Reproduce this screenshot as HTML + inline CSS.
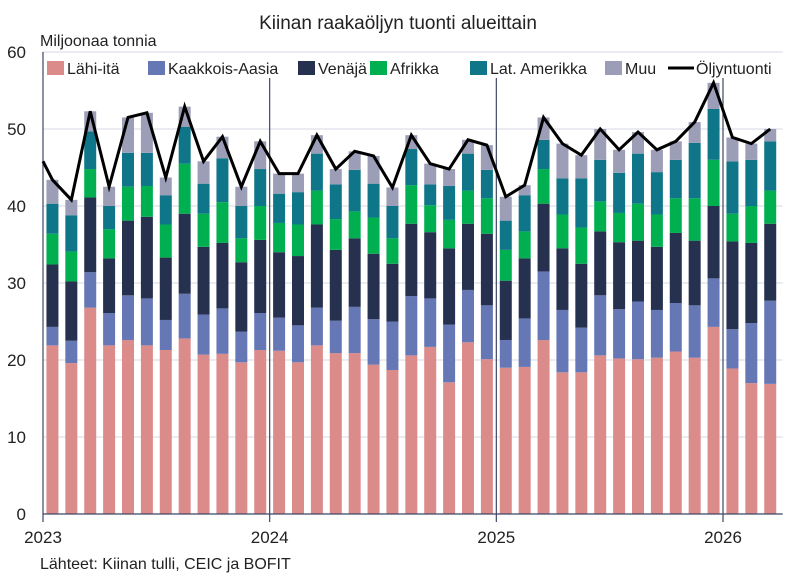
<!DOCTYPE html>
<html><head><meta charset="utf-8">
<style>
html,body{margin:0;padding:0;background:#fff;}
svg{display:block;font-family:"Liberation Sans",sans-serif;}
</style></head>
<body>
<svg id="chart" width="797" height="578" viewBox="0 0 797 578" xmlns="http://www.w3.org/2000/svg">
<text x="398" y="29" text-anchor="middle" font-size="19" fill="#222">Kiinan raakaöljyn tuonti alueittain</text>
<text x="40" y="46" font-size="16" fill="#222">Miljoonaa tonnia</text>
<text x="40" y="569" font-size="16" fill="#222">Lähteet: Kiinan tulli, CEIC ja BOFIT</text>
<g id="grid"></g><g id="bars"></g><g id="axes"></g><g id="legend"></g>
</svg>
<script>
const months = 39;
const yTicks = [0,10,20,30,40,50,60];
const xTickLabels = ["2023","2024","2025","2026"];
const seriesNames = ["Lähi-itä","Kaakkois-Aasia","Venäjä","Afrikka","Lat. Amerikka","Muu"];
const lahiIta = [21.9,19.6,26.8,21.9,22.6,21.9,21.3,22.8,20.7,20.8,19.7,21.3,21.2,19.7,21.9,20.9,20.9,19.4,18.7,20.6,21.7,17.1,22.3,20.1,19.0,19.1,22.6,18.4,18.4,20.6,20.2,20.1,20.3,21.1,20.3,24.3,18.9,17.0,16.9];
const kaakkoisAasia = [2.4,2.9,4.6,4.2,5.8,6.1,3.9,5.8,5.2,5.9,4.0,4.8,4.3,4.8,4.9,4.2,6.0,5.9,6.3,7.7,6.3,7.5,6.8,7.0,3.6,6.3,8.9,8.1,5.8,7.8,6.4,7.5,6.2,6.3,6.8,6.3,5.1,7.8,10.8];
const venaja = [8.1,7.7,9.7,7.1,9.7,10.6,8.1,10.4,8.8,8.5,9.0,9.5,8.5,9.0,10.8,9.2,8.9,8.5,7.5,9.4,8.6,9.9,8.6,9.3,7.7,7.8,8.8,8.0,8.3,8.3,8.7,7.9,8.2,9.1,8.4,9.4,11.4,10.4,10.0];
const afrikka = [4.0,3.9,3.7,3.8,4.4,4.0,4.3,6.5,4.3,5.3,3.1,4.4,3.8,4.1,4.4,4.0,3.5,4.7,3.3,5.0,3.5,3.7,4.3,4.6,4.0,3.5,4.5,4.4,4.7,3.9,3.8,4.8,4.2,4.5,5.5,6.0,3.6,4.8,4.3];
const latAmerikka = [3.9,4.7,4.9,3.0,4.4,4.3,3.8,4.8,3.9,5.7,4.2,4.8,3.8,4.2,4.8,4.5,5.4,4.4,4.2,4.7,2.7,4.4,4.8,3.7,3.8,4.7,3.8,4.7,6.4,5.4,5.2,6.5,5.5,5.0,7.2,6.6,6.8,6.0,6.4];
const muu = [3.1,2.0,2.6,2.5,4.6,5.2,2.3,2.6,2.9,2.8,2.5,3.6,2.6,2.4,2.4,2.0,2.4,3.6,2.4,1.8,2.7,2.2,1.8,3.2,3.1,1.3,2.9,4.5,3.0,4.0,3.0,2.8,2.9,2.4,2.7,3.4,3.1,2.1,1.6];
const oljyntuonti = [43.4,40.8,52.3,42.5,51.5,52.1,43.7,52.9,45.8,49.0,42.5,48.4,44.2,44.2,49.2,44.8,47.1,46.5,42.4,49.2,45.5,44.8,48.6,47.9,41.2,42.7,51.5,48.1,46.6,50.0,47.3,49.6,47.3,48.4,50.9,56.0,48.9,48.1,50.0];
const lineStartValue = 45.8;
const colors = ["#dc8b8b","#6577b5","#26304f","#00b050","#0f7588","#9c9eb8"];

const NS="http://www.w3.org/2000/svg";
const X0=43, MW=(723-43)/36, Y0=514, YS=7.7, BW=12;
const xOf = i => X0 + MW*(i+0.5);
const yOf = v => Y0 - v*YS;
function mk(tag, attrs, parent){const e=document.createElementNS(NS,tag);for(const k in attrs)e.setAttribute(k,attrs[k]);parent.appendChild(e);return e;}
const grid=document.getElementById('grid'), bars=document.getElementById('bars'), axes=document.getElementById('axes'), legend=document.getElementById('legend');
const plotRight = X0 + MW*months + 3;

yTicks.forEach(t=>{
  if(t>0){const g=mk('line',{x1:X0,x2:plotRight,y1:yOf(t),y2:yOf(t),stroke:'#dde0ea','stroke-width':1.2},grid);
  
  }
  const tx=mk('text',{x:26,y:yOf(t)+6,'text-anchor':'end','font-size':17,fill:'#222'},axes);
  tx.textContent=t;
  
  
});

const series=[lahiIta,kaakkoisAasia,venaja,afrikka,latAmerikka,muu];
for(let i=0;i<months;i++){
  let base=0;
  series.forEach((s,k)=>{
    const r=mk('rect',{x:xOf(i)-BW/2,y:yOf(base+s[i]),width:BW,height:s[i]*YS,fill:colors[k]},bars);
    
    
    base+=s[i];
  });
}

xTickLabels.forEach((lab,j)=>{
  const x=X0+MW*12*j;
  const l=mk('line',{x1:x,x2:x,y1:j===0?52:78,y2:Y0+8,stroke:'#3d4863','stroke-width':1.2},axes);
  
  
  const t=mk('text',{x:x,y:543,'text-anchor':'middle','font-size':17,fill:'#222'},axes);
  t.textContent=lab;
  
  
});
const ax=mk('line',{x1:X0,x2:plotRight,y1:Y0,y2:Y0,stroke:'#3d4863','stroke-width':1.3},axes);



const pts=X0+','+yOf(lineStartValue)+' '+oljyntuonti.map((v,i)=>xOf(i)+','+yOf(v)).join(' ');
const pl=mk('polyline',{points:pts,fill:'none',stroke:'#000','stroke-width':3,'stroke-linejoin':'miter'},axes);



const legX=[47,148,298,370,470,605];
seriesNames.forEach((n,k)=>{
  const r=mk('rect',{x:legX[k],y:61,width:17,height:14,fill:colors[k]},legend);
  
  
  const t=mk('text',{x:legX[k]+20,y:74,'font-size':16,fill:'#222'},legend);
  t.textContent=n;
  
  
});
const ll=mk('line',{x1:668,x2:694,y1:68,y2:68,stroke:'#000','stroke-width':3},legend);


const lt=mk('text',{x:696,y:74,'font-size':16,fill:'#222'},legend);
lt.textContent='Öljyntuonti';


</script>
</body></html>
